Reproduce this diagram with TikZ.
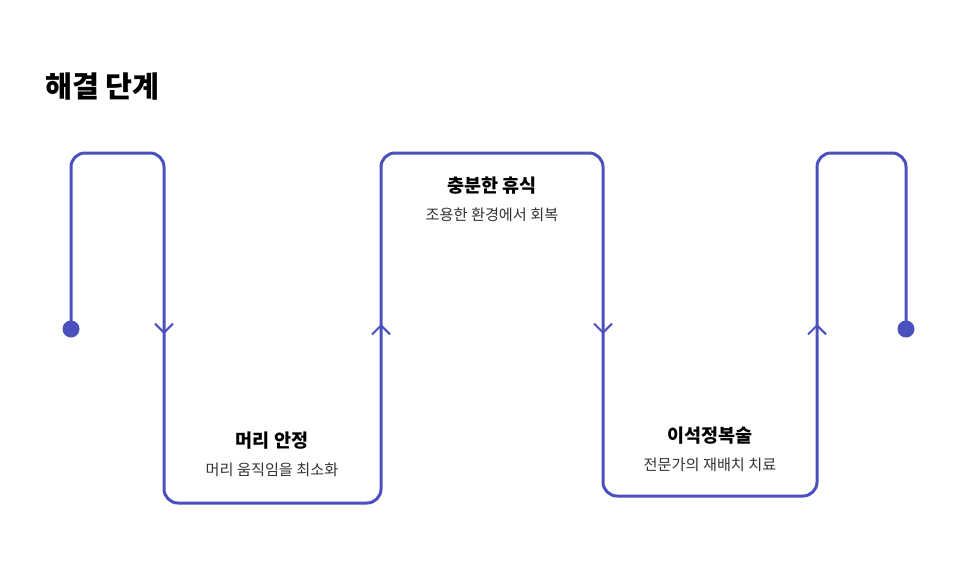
\documentclass[tikz,border=0pt]{standalone}
\usepackage{fontspec}
\setmainfont{Noto Sans CJK KR}
\usetikzlibrary{arrows.meta}
\definecolor{flow}{HTML}{4A50BE}
\definecolor{subgray}{HTML}{333333}

\begin{document}
\begin{tikzpicture}[
    x=1pt, y=-1pt,
    track/.style={draw=flow, line width=3pt, rounded corners=14pt},
    chevron/.style={draw=flow, line width=2pt,
                    -{Straight Barb[length=9pt, width=18pt]}},
    dot/.style={circle, fill=flow, inner sep=0pt, minimum size=17pt},
    heading/.style={font=\bfseries\fontsize{18.5}{21}\selectfont, inner sep=0pt},
    detail/.style={font=\fontsize{15.2}{18}\selectfont, text=subgray, inner sep=0pt}
  ]
  \useasboundingbox (0,0) rectangle (973,573);

  % Title
  \node[anchor=west, inner sep=0pt, font=\bfseries\fontsize{29.3}{34}\selectfont]
    (title) at (45,87) {해결 단계};

  % Track corners
  \coordinate (start) at (71,329);
  \coordinate (c1) at (71,153);
  \coordinate (c2) at (164,153);
  \coordinate (c3) at (164,503);
  \coordinate (c4) at (381,503);
  \coordinate (c5) at (381,153);
  \coordinate (c6) at (603,153);
  \coordinate (c7) at (603,496);
  \coordinate (c8) at (817,496);
  \coordinate (c9) at (817,153);
  \coordinate (c10) at (906,153);
  \coordinate (stop) at (906,329);

  \draw[track] (start) -- (c1) -- (c2) -- (c3) -- (c4) -- (c5) -- (c6)
               -- (c7) -- (c8) -- (c9) -- (c10) -- (stop);

  % Direction marks
  \draw[chevron] (164,320) -- (164,334);
  \draw[chevron] (381,338) -- (381,324);
  \draw[chevron] (603,320) -- (603,334);
  \draw[chevron] (817,338) -- (817,324);

  % End points
  \node[dot] (startdot) at (start) {};
  \node[dot] (stopdot)  at (stop)  {};

  % Steps
  \node[heading] (rest)    at (492,186) {충분한 휴식};
  \node[detail]  (restsub) at (492,215) {조용한 환경에서 회복};

  \node[heading] (head)    at (272,441) {머리 안정};
  \node[detail]  (headsub) at (272,470) {머리 움직임을 최소화};

  \node[heading] (epley)    at (710,436) {이석정복술};
  \node[detail]  (epleysub) at (710,465) {전문가의 재배치 치료};
\end{tikzpicture}
\end{document}
